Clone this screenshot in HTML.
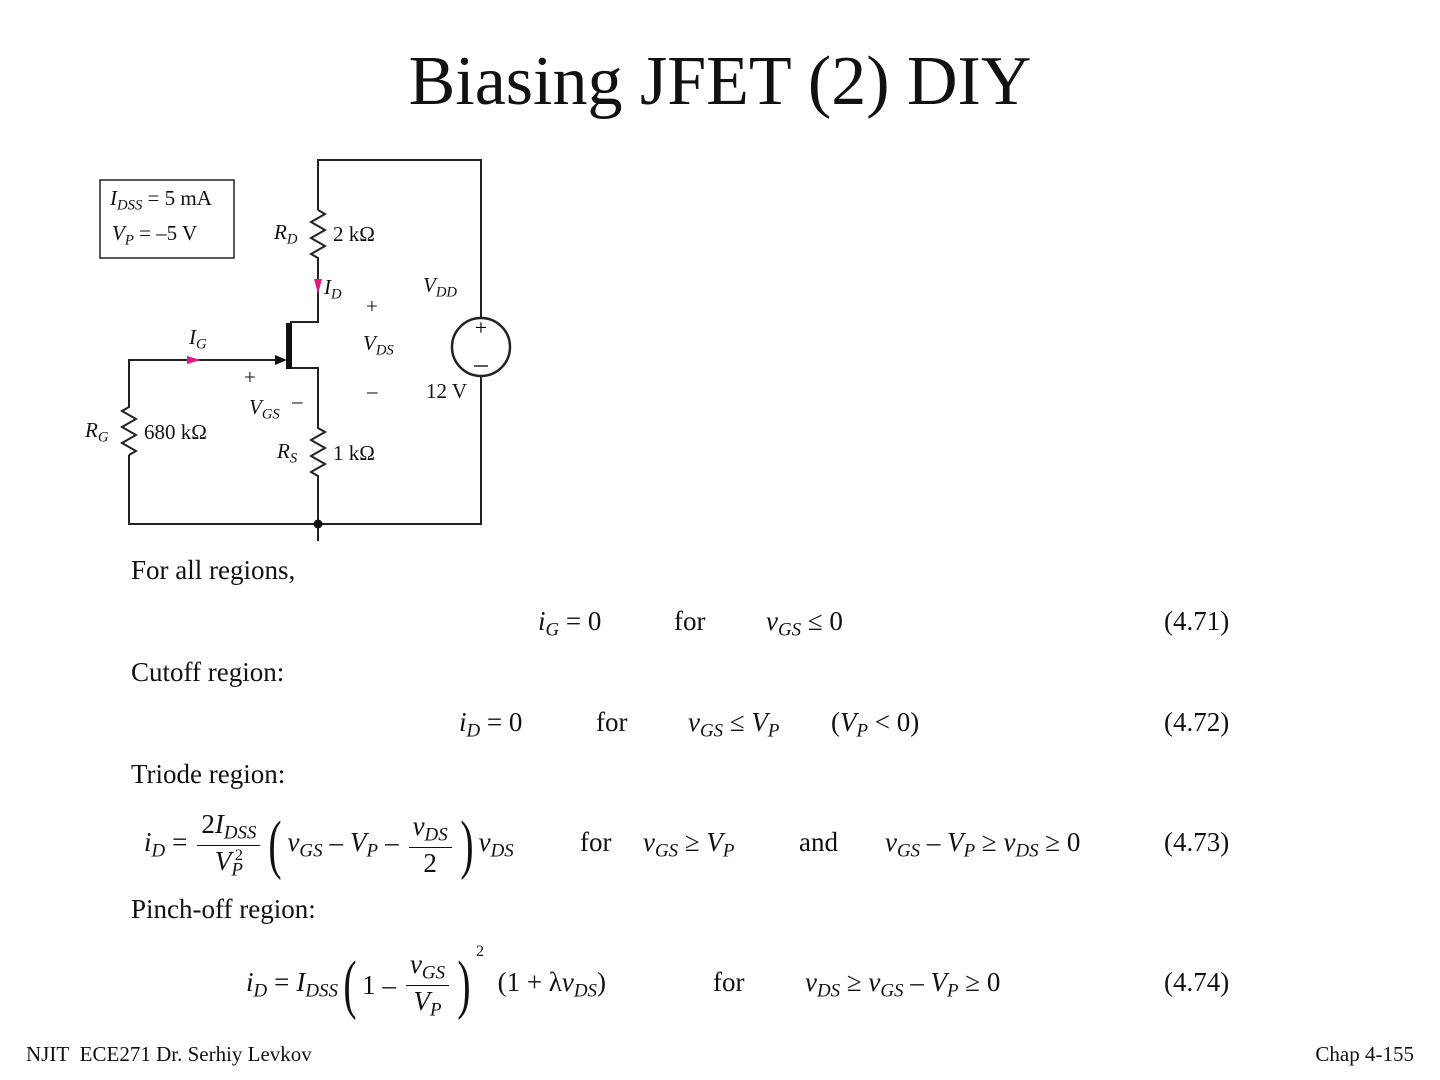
<!DOCTYPE html>
<html><head><meta charset="utf-8"><style>
body{margin:0;background:#fff;width:1440px;height:1080px;position:relative;overflow:hidden;font-family:"Liberation Serif",serif;color:#111}
.t{position:absolute;white-space:nowrap}
i{font-style:italic}
sub{font-size:70%;vertical-align:-0.3em;font-style:italic}
.eq{font-size:27px}
.c{font-size:21px}
.frac{display:inline-block;text-align:center;vertical-align:middle;margin:0 3px}
.frac span{display:block;padding:0 4px}
.frac .n{border-bottom:1.5px solid #111}
.paren{font-size:66px;vertical-align:middle;font-weight:100;transform:scaleX(0.6);display:inline-block;margin:0 1px}
.o{margin:0 7px}
</style></head><body>
<div class="t" style="left:0;width:1440px;text-align:center;top:42px;font-size:70px">Biasing JFET (2) DIY</div>

<svg width="1440" height="1080" style="position:absolute;left:0;top:0" xmlns="http://www.w3.org/2000/svg">
<g fill="none" stroke="#222" stroke-width="2">
<rect x="100" y="180" width="134" height="78" stroke-width="1.5"/>
<polyline points="318,210 318,160 481,160 481,318"/>
<polyline points="481,376 481,524 129,524 129,455"/>
<polyline points="318,210 325,214 311,222 325,230 311,238 325,246 311,254 318,258 318,322 290,322"/>
<polyline points="290,368 318,368 318,428 325,432 311,440 325,448 311,456 325,464 311,472 318,476 318,541"/>
<polyline points="129,455 136,451 122,443 136,435 122,427 136,419 122,411 129,407 129,360 278,360"/>
<circle cx="481" cy="347" r="29" stroke-width="2.5"/>
</g>
<rect x="286" y="323" width="6" height="46" fill="#111"/>
<polygon points="287,360 275,355 275,365" fill="#111"/>
<circle cx="318" cy="524" r="4.5" fill="#111"/>
<polygon points="187,356 201,360 187,364" fill="#e0198a"/>
<polygon points="314,279 322,279 318,294" fill="#e0198a"/>
<text x="481" y="335" font-size="22" text-anchor="middle" font-family="Liberation Serif">+</text>
<line x1="474" y1="366" x2="488" y2="366" stroke="#222" stroke-width="1.5"/>
</svg>

<div class="t c" style="left:110px;top:186px"><i>I</i><sub>DSS</sub> = 5 mA</div>
<div class="t c" style="left:112px;top:221px"><i>V</i><sub>P</sub> = –5 V</div>
<div class="t c" style="left:274px;top:220px"><i>R</i><sub>D</sub></div>
<div class="t c" style="left:333px;top:222px">2 kΩ</div>
<div class="t c" style="left:324px;top:275px"><i>I</i><sub>D</sub></div>
<div class="t c" style="left:423px;top:273px"><i>V</i><sub>DD</sub></div>
<div class="t c" style="left:366px;top:294px">+</div>
<div class="t c" style="left:189px;top:325px"><i>I</i><sub>G</sub></div>
<div class="t c" style="left:363px;top:331px"><i>V</i><sub>DS</sub></div>
<div class="t c" style="left:244px;top:365px">+</div>
<div class="t c" style="left:367px;top:379px">–</div>
<div class="t c" style="left:426px;top:379px">12 V</div>
<div class="t c" style="left:249px;top:395px"><i>V</i><sub>GS</sub></div>
<div class="t c" style="left:292px;top:389px">–</div>
<div class="t c" style="left:85px;top:418px"><i>R</i><sub>G</sub></div>
<div class="t c" style="left:144px;top:420px">680 kΩ</div>
<div class="t c" style="left:277px;top:439px"><i>R</i><sub>S</sub></div>
<div class="t c" style="left:333px;top:441px">1 kΩ</div>

<div class="t eq" style="left:131px;top:555px">For all regions,</div>
<div class="t eq" style="left:538px;top:606px"><i>i</i><sub>G</sub> = 0</div>
<div class="t eq" style="left:674px;top:606px">for</div>
<div class="t eq" style="left:766px;top:606px"><i>v</i><sub>GS</sub> ≤ 0</div>
<div class="t eq" style="left:1164px;top:606px">(4.71)</div>
<div class="t eq" style="left:131px;top:657px">Cutoff region:</div>
<div class="t eq" style="left:459px;top:707px"><i>i</i><sub>D</sub> = 0</div>
<div class="t eq" style="left:596px;top:707px">for</div>
<div class="t eq" style="left:688px;top:707px"><i>v</i><sub>GS</sub> ≤ <i>V</i><sub>P</sub></div>
<div class="t eq" style="left:831px;top:707px">(<i>V</i><sub>P</sub> &lt; 0)</div>
<div class="t eq" style="left:1164px;top:707px">(4.72)</div>
<div class="t eq" style="left:131px;top:759px">Triode region:</div>

<div class="t eq" style="left:144px;top:806px;display:flex;align-items:center;height:78px">
<span><i>i</i><sub>D</sub><span class="o">=</span></span>
<span class="frac"><span class="n">2<i>I</i><sub>DSS</sub></span><span><i>V</i><sub>P</sub><sup style="font-size:60%;margin-left:-8px">2</sup></span></span>
<span class="paren">(</span><span><i>v</i><sub>GS</sub><span class="o">–</span><i>V</i><sub>P</sub><span class="o">–</span></span>
<span class="frac"><span class="n"><i>v</i><sub>DS</sub></span><span>2</span></span><span class="paren">)</span><span><i>v</i><sub>DS</sub></span>
</div>
<div class="t eq" style="left:580px;top:827px">for</div>
<div class="t eq" style="left:643px;top:827px"><i>v</i><sub>GS</sub> ≥ <i>V</i><sub>P</sub></div>
<div class="t eq" style="left:799px;top:827px">and</div>
<div class="t eq" style="left:885px;top:827px"><i>v</i><sub>GS</sub> – <i>V</i><sub>P</sub> ≥ <i>v</i><sub>DS</sub> ≥ 0</div>
<div class="t eq" style="left:1164px;top:827px">(4.73)</div>
<div class="t eq" style="left:131px;top:894px">Pinch-off region:</div>

<div class="t eq" style="left:246px;top:946px;display:flex;align-items:center;height:78px">
<span><i>i</i><sub>D</sub><span class="o">=</span><i>I</i><sub>DSS</sub></span><span class="paren">(</span><span>1<span class="o">–</span></span>
<span class="frac"><span class="n"><i>v</i><sub>GS</sub></span><span><i>V</i><sub>P</sub></span></span><span class="paren">)</span><sup style="font-size:60%;align-self:flex-start;margin-top:-4px">2</sup>
<span>&nbsp;&nbsp;(1 + λ<i>v</i><sub>DS</sub>)</span>
</div>
<div class="t eq" style="left:713px;top:967px">for</div>
<div class="t eq" style="left:805px;top:967px"><i>v</i><sub>DS</sub> ≥ <i>v</i><sub>GS</sub> – <i>V</i><sub>P</sub> ≥ 0</div>
<div class="t eq" style="left:1164px;top:967px">(4.74)</div>

<div class="t" style="left:26px;top:1042px;font-size:21px">NJIT&nbsp; ECE271 Dr. Serhiy Levkov</div>
<div class="t" style="right:26px;top:1042px;font-size:21px">Chap 4-155</div>
</body></html>
